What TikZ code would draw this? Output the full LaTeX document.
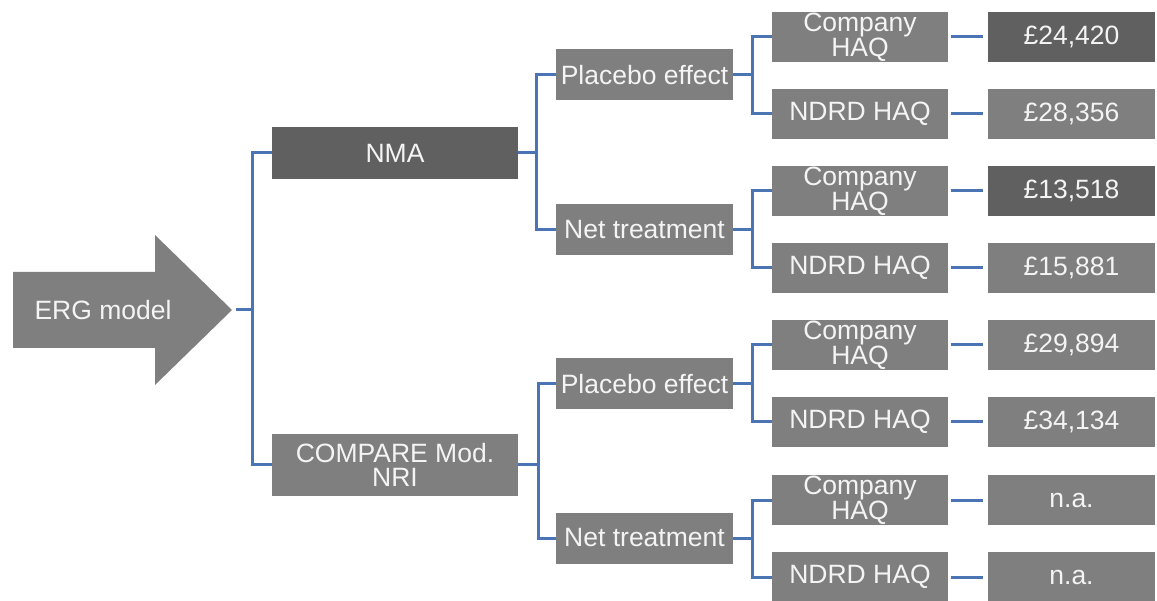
\documentclass[tikz,border=0pt]{standalone}
\usepackage{fontspec}
\setmainfont{Liberation Sans}
\usepackage{tikz}

\definecolor{boxdark}{HTML}{606060}
\definecolor{boxmid}{HTML}{7F7F7F}
\definecolor{linkblue}{HTML}{4A74B4}
\definecolor{boxtext}{HTML}{F4F4F4}

\begin{document}
\begin{tikzpicture}[x=1pt, y=-1pt,
	box/.style={fill=boxmid, text=boxtext, inner sep=0pt, align=center,
		font=\fontsize{26.5}{24}\selectfont},
	lvlone/.style={box, minimum width=246pt},
	lvltwo/.style={box, minimum width=177pt, minimum height=51pt},
	leaf/.style={box, minimum width=176pt, minimum height=50pt},
	result/.style={box, minimum width=167pt, minimum height=50pt},
	link/.style={draw=linkblue, line width=3pt}]
	\useasboundingbox (0,0) rectangle (1157,601);

	% big arrow on the left
	\fill[boxmid] (13,272) -- (155,272) -- (155,235) -- (232,310)
		-- (155,385) -- (155,348) -- (13,348) -- cycle;
	\node[text=boxtext, font=\fontsize{26.5}{24}\selectfont] (erg) at (103,310) {ERG model};
	\coordinate (ergtip) at (236,310);

	% first split
	\node[lvlone, minimum height=52pt, fill=boxdark] (nma) at (395,153) {NMA};
	\node[lvlone, minimum height=62pt] (cmp) at (395,465) {COMPARE Mod.\\NRI};

	% second split
	\node[lvltwo] (pla1) at (644.5,75) {Placebo effect};
	\node[lvltwo] (net1) at (644.5,230) {Net treatment};
	\node[lvltwo] (pla2) at (644.5,384) {Placebo effect};
	\node[lvltwo] (net2) at (644.5,538) {Net treatment};

	% HAQ sources
	\node[leaf] (haq1) at (860,37) {Company\\HAQ};
	\node[leaf] (haq2) at (860,114) {NDRD HAQ};
	\node[leaf] (haq3) at (860,191) {Company\\HAQ};
	\node[leaf] (haq4) at (860,268) {NDRD HAQ};
	\node[leaf] (haq5) at (860,345) {Company\\HAQ};
	\node[leaf] (haq6) at (860,422) {NDRD HAQ};
	\node[leaf] (haq7) at (860,500) {Company\\HAQ};
	\node[leaf] (haq8) at (860,577) {NDRD HAQ};

	% ICERs
	\node[result, fill=boxdark] (val1) at (1071.5,37) {£24,420};
	\node[result] (val2) at (1071.5,114) {£28,356};
	\node[result, fill=boxdark] (val3) at (1071.5,191) {£13,518};
	\node[result] (val4) at (1071.5,268) {£15,881};
	\node[result] (val5) at (1071.5,345) {£29,894};
	\node[result] (val6) at (1071.5,422) {£34,134};
	\node[result] (val7) at (1071.5,500) {n.a.};
	\node[result] (val8) at (1071.5,577) {n.a.};

	% brackets
	\draw[link] (ergtip) -- ++(16,0) |- (nma.west);
	\draw[link] (ergtip) -- ++(16,0) |- (cmp.west);
	\draw[link] (nma.east) -- ++(18,0) |- (pla1.west);
	\draw[link] (nma.east) -- ++(18,0) |- (net1.west);
	\draw[link] (cmp.east) -- ++(20,0) |- (pla2.west);
	\draw[link] (cmp.east) -- ++(20,0) |- (net2.west);
	\draw[link] (pla1.east) -- ++(19,0) |- (haq1.west);
	\draw[link] (pla1.east) -- ++(19,0) |- (haq2.west);
	\draw[link] (net1.east) -- ++(19,0) |- (haq3.west);
	\draw[link] (net1.east) -- ++(19,0) |- (haq4.west);
	\draw[link] (pla2.east) -- ++(19,0) |- (haq5.west);
	\draw[link] (pla2.east) -- ++(19,0) |- (haq6.west);
	\draw[link] (net2.east) -- ++(19,0) |- (haq7.west);
	\draw[link] (net2.east) -- ++(19,0) |- (haq8.west);
	\foreach \i in {1,...,8}
		\draw[link, shorten <=3pt, shorten >=5pt] (haq\i.east) -- (val\i.west);
\end{tikzpicture}
\end{document}
